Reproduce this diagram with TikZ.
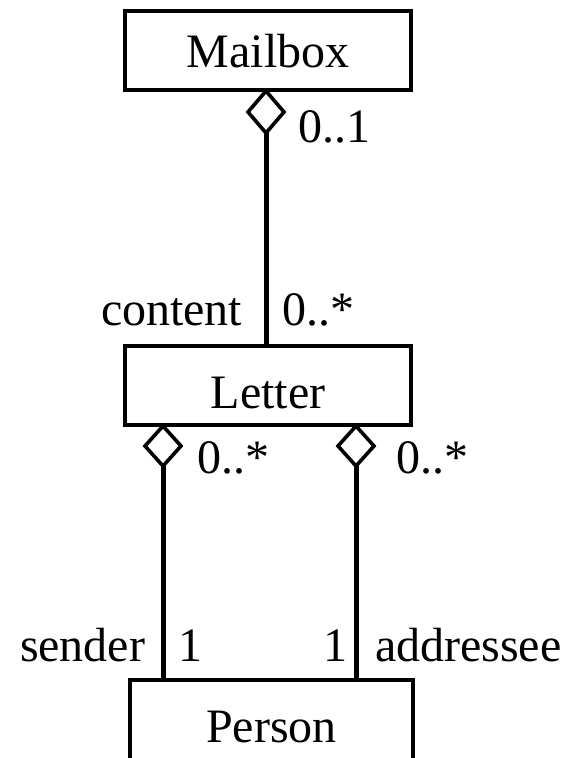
\documentclass[tikz,border=0pt]{standalone}
\usepackage{fontspec}
\setmainfont{Liberation Serif}
\usetikzlibrary{shapes.geometric}
\begin{document}
\begin{tikzpicture}[x=1pt,y=-1pt,
  box/.style={draw, line width=4pt, inner sep=0pt, outer sep=0pt, minimum width=286pt, minimum height=79pt},
  agg/.style={diamond, draw, line width=3.6pt, inner sep=0pt, outer sep=0pt, minimum width=36pt, fill=white},
  conn/.style={line width=5pt},
  lbl/.style={inner sep=0pt, outer sep=0pt},
  font=\fontsize{48}{52}\selectfont]
\useasboundingbox (0,0) rectangle (563,758);
\clip (0,0) rectangle (563,758);

\node[box, text height=33pt, text depth=0pt] (mailbox) at (268,50.5) {Mailbox};
\node[box, text height=45pt, text depth=0pt] (letter) at (268,385.5) {Letter};
\node[box, minimum width=283pt, minimum height=120pt, text height=32pt, text depth=28pt] (person) at (271.5,740) {Person};

\node[agg, minimum height=42pt, anchor=north] (d1) at (266,91) {};
\node[agg, minimum height=40pt, anchor=north] (d2) at (163,426) {};
\node[agg, minimum height=40pt, anchor=north] (d3) at (356,426) {};

\draw[conn] (d1.south) -- (letter.north -| d1.south);
\draw[conn] (d2.south) -- (person.north -| d2.south);
\draw[conn] (d3.south) -- (person.north -| d3.south);

\node[lbl, anchor=base west] (m1) at (298,142) {0..1};
\node[lbl, anchor=base west] (l1) at (101,325) {content};
\node[lbl, anchor=base west] (l2) at (282,325) {0..*};
\node[lbl, anchor=base west] (l3) at (197,473) {0..*};
\node[lbl, anchor=base west] (l4) at (396,473) {0..*};
\node[lbl, anchor=base west] (p1) at (20,661) {sender};
\node[lbl, anchor=base west] (p2) at (178,661) {1};
\node[lbl, anchor=base east] (p3) at (347,661) {1};
\node[lbl, anchor=base west] (p4) at (375,661) {addressee};
\end{tikzpicture}
\end{document}
